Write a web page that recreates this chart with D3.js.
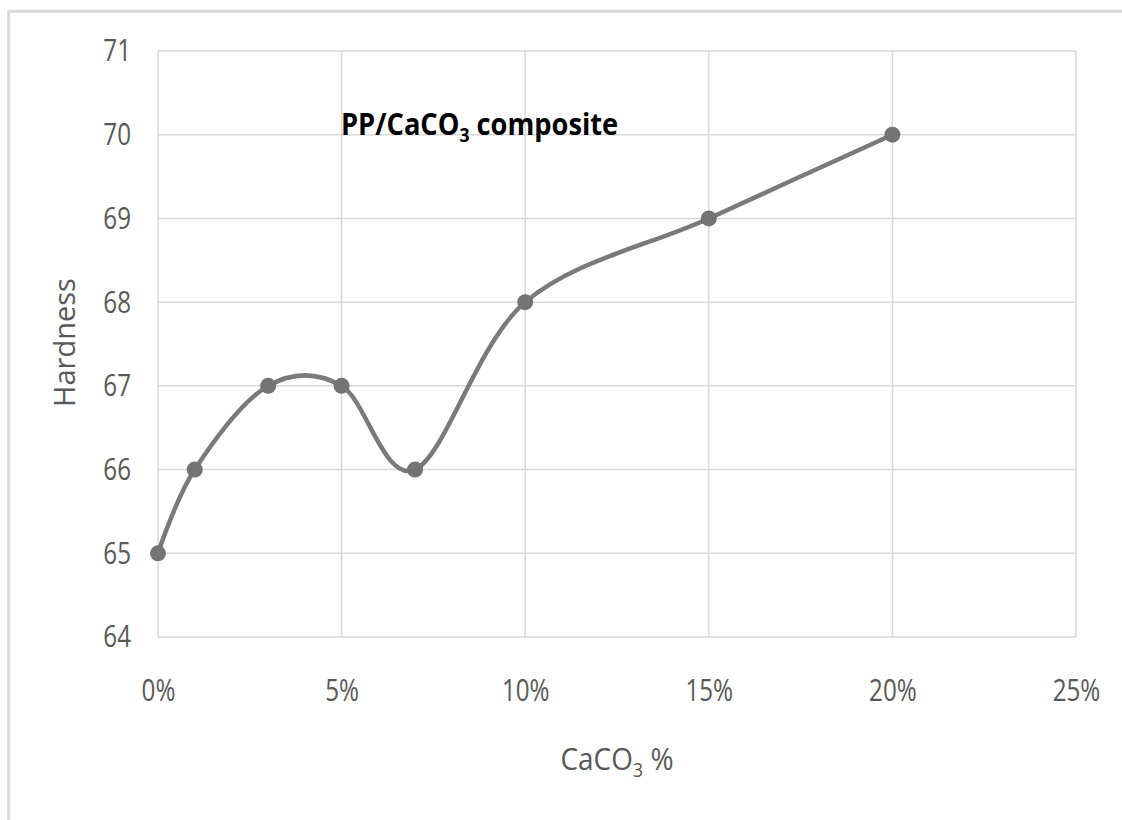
<!DOCTYPE html>
<html>
<head>
<meta charset="utf-8">
<script src="https://cdn.jsdelivr.net/npm/d3@7"></script>
<style>
  html, body { margin: 0; padding: 0; background: #fff; }
  svg { display: block; }
  text { font-family: "Open Sans", "Liberation Sans", sans-serif; }
</style>
</head>
<body>
<svg id="chart" width="1122" height="820"></svg>
<script>
// CaCO3 loading (%) and measured hardness
const caco3Pct = [0, 1, 3, 5, 7, 10, 15, 20];
const hardness = [65, 66, 67, 67, 66, 68, 69, 70];
const xTicks = [0, 5, 10, 15, 20, 25];
const yTicks = [64, 65, 66, 67, 68, 69, 70, 71];

const svg = d3.select("#chart");
const plot = { left: 158, right: 1076, top: 51, bottom: 637 };
const narrow = 0.78; // horizontal squeeze for the condensed lettering

// outer chart frame
svg.append("rect")
  .attr("x", 8.7).attr("y", 11.3).attr("width", 1200).attr("height", 900)
  .attr("fill", "#fff").attr("stroke", "#d9d9d9").attr("stroke-width", 3);

const x = d3.scaleLinear().domain([0, 25]).range([plot.left, plot.right]);
const y = d3.scaleLinear().domain([64, 71]).range([plot.bottom, plot.top]);

// gridlines
const grid = svg.append("g").attr("stroke", "#d9d9d9").attr("stroke-width", 1.5);
grid.selectAll("line.h").data(yTicks).join("line")
  .attr("x1", plot.left).attr("x2", plot.right)
  .attr("y1", d => y(d)).attr("y2", d => y(d));
grid.selectAll("line.v").data(xTicks).join("line")
  .attr("y1", plot.top).attr("y2", plot.bottom)
  .attr("x1", d => x(d)).attr("x2", d => x(d));

// axes (labels only, lines come from the grid)
const xAxis = svg.append("g")
  .attr("transform", `translate(0,${plot.bottom})`)
  .call(d3.axisBottom(x).tickValues(xTicks).tickFormat(d => d + "%").tickSize(0).tickPadding(42));
const yAxis = svg.append("g")
  .attr("transform", `translate(${plot.left},0)`)
  .call(d3.axisLeft(y).tickValues(yTicks).tickFormat(d3.format("d")).tickSize(0).tickPadding(27));
[xAxis, yAxis].forEach(g => {
  g.select(".domain").remove();
  g.selectAll("text").attr("fill", "#595959").attr("font-size", 31);
});
xAxis.selectAll("text")
  .attr("transform", `translate(0,42) scale(${narrow},1)`).attr("y", 0);
yAxis.selectAll("text")
  .attr("transform", `translate(-27,0) scale(${narrow},1)`).attr("x", 0);

// data line (smoothed) and markers
const line = d3.line()
  .x((d, i) => x(caco3Pct[i]))
  .y(d => y(d))
  .curve(d3.curveCardinal.tension(0));
svg.append("path").datum(hardness)
  .attr("d", line).attr("fill", "none")
  .attr("stroke", "#7a7a7a").attr("stroke-width", 4.5);
svg.append("g").selectAll("circle").data(hardness).join("circle")
  .attr("cx", (d, i) => x(caco3Pct[i])).attr("cy", d => y(d))
  .attr("r", 8).attr("fill", "#737373");

// chart title
const title = svg.append("text")
  .attr("transform", "translate(341,135) scale(0.88,1)")
  .attr("font-size", 31).attr("font-weight", "bold").attr("fill", "#000");
title.append("tspan").text("PP/CaCO");
title.append("tspan").text("3").attr("font-size", 20).attr("dy", 7);
title.append("tspan").text(" composite").attr("dy", -7);

// axis titles
const xt = svg.append("text")
  .attr("transform", `translate(${(plot.left + plot.right) / 2},770) scale(0.9,1)`)
  .attr("text-anchor", "middle").attr("font-size", 31).attr("fill", "#595959");
xt.append("tspan").text("CaCO");
xt.append("tspan").text("3").attr("font-size", 20).attr("dy", 7);
xt.append("tspan").text(" %").attr("dy", -7);

svg.append("text")
  .attr("transform", `translate(75,${(278 + 407) / 2}) rotate(-90)`)
  .attr("text-anchor", "middle").attr("font-size", 29).attr("fill", "#595959")
  .text("Hardness");
</script>
</body>
</html>
